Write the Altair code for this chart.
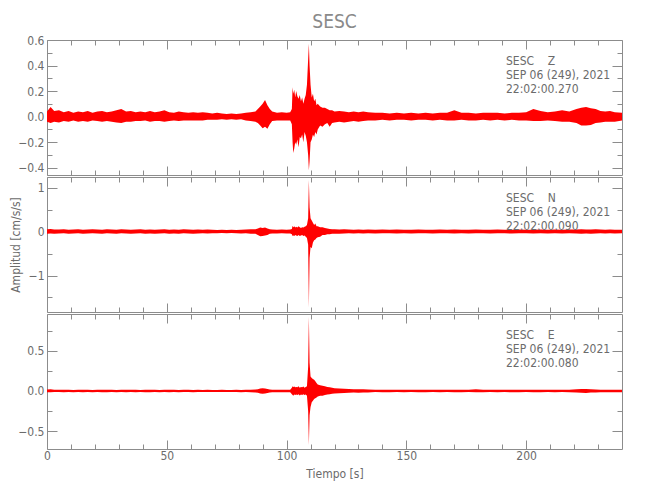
import altair as alt
import pandas as pd

# ---------------- data (envelope of each trace) ----------------
time_s = [0, 1.5, 3,
          5, 7, 9, 11, 13, 15, 17, 19, 21, 23, 25, 27, 29, 31, 33, 35, 37, 39, 41, 43,
          45, 47, 49, 51, 53, 55, 57, 59, 61, 63, 65, 67, 69, 71, 73, 75, 77, 79, 81, 83, 85,
          87, 88, 89, 90, 91, 92, 93, 94,
          96, 98, 100,
          101.5,
          102.2, 102.5, 102.8, 103.2, 103.6,
          104, 104.5, 105, 105.5, 106, 106.5, 107, 107.5, 108, 108.5, 109,
          109.3, 109.6,
          110, 110.5, 111, 111.5, 112, 112.5, 113,
          114, 115, 116, 117, 118, 119, 120,
          122, 124, 126, 128, 130, 132, 134,
          137, 140, 143, 146, 149, 152, 155, 158, 161, 164, 167, 170, 173, 176, 179, 182,
          185, 188, 191, 194, 197, 200, 203, 206, 209, 212, 215, 218,
          221, 223, 225, 227, 229, 231, 233, 235, 237,
          240]

z_upper = [0.04, 0.075, 0.045,
           0.05, 0.035, 0.045, 0.03, 0.04, 0.035, 0.045, 0.03, 0.04, 0.045,
           0.035, 0.04, 0.05, 0.06, 0.04, 0.045, 0.035, 0.04, 0.035, 0.045,
           0.035, 0.04, 0.05, 0.035, 0.03, 0.04, 0.035, 0.03, 0.035, 0.03,
           0.035, 0.03, 0.025, 0.03, 0.025, 0.02, 0.025, 0.02, 0.025, 0.03,
           0.035,
           0.04, 0.06, 0.08, 0.1, 0.13, 0.09, 0.06, 0.04,
           0.03, 0.035, 0.03,
           0.035,
           0.06, 0.23, 0.18, 0.21, 0.15,
           0.2, 0.16, 0.14, 0.17, 0.12, 0.15, 0.1, 0.14, 0.17, 0.25, 0.45,
           0.57, 0.4,
           0.25, 0.15, 0.18, 0.12, 0.14, 0.09, 0.1,
           0.08, 0.07, 0.07, 0.06, 0.05, 0.05, 0.04,
           0.045, 0.04, 0.035, 0.04, 0.035, 0.04, 0.035,
           0.03, 0.03, 0.025, 0.03, 0.025, 0.03, 0.025, 0.03, 0.025, 0.03, 0.03, 0.05, 0.03, 0.03,
           0.025, 0.03, 0.03, 0.03, 0.025, 0.03, 0.03, 0.035, 0.06, 0.045, 0.035, 0.04, 0.05, 0.04,
           0.06, 0.07, 0.075, 0.065, 0.06, 0.045, 0.04, 0.045, 0.035,
           0.03]
z_lower = [-0.04, -0.05, -0.04,
           -0.045, -0.035, -0.04, -0.03, -0.04, -0.035, -0.04, -0.03, -0.035, -0.04,
           -0.035, -0.04, -0.045, -0.05, -0.04, -0.04, -0.035, -0.035, -0.03, -0.04,
           -0.035, -0.035, -0.04, -0.035, -0.03, -0.035, -0.03, -0.03, -0.03, -0.03,
           -0.03, -0.025, -0.025, -0.025, -0.02, -0.025, -0.02, -0.025, -0.02, -0.03,
           -0.035,
           -0.04, -0.05, -0.07, -0.09, -0.08, -0.094, -0.06, -0.035,
           -0.03, -0.03, -0.03,
           -0.03,
           -0.06, -0.2, -0.285, -0.25, -0.2,
           -0.22, -0.18, -0.24, -0.16, -0.17, -0.14, -0.2, -0.12, -0.15, -0.2, -0.3,
           -0.42, -0.35,
           -0.2, -0.18, -0.14, -0.16, -0.12, -0.14, -0.1,
           -0.07, -0.08, -0.06, -0.05, -0.08, -0.05, -0.045,
           -0.04, -0.045, -0.04, -0.035, -0.04, -0.035, -0.03,
           -0.03, -0.025, -0.03, -0.025, -0.025, -0.03, -0.025, -0.025, -0.03, -0.025, -0.03, -0.03, -0.025, -0.03,
           -0.03, -0.025, -0.03, -0.025, -0.03, -0.025, -0.03, -0.03, -0.035, -0.035, -0.03, -0.035, -0.04, -0.04,
           -0.05, -0.07, -0.07, -0.065, -0.05, -0.045, -0.04, -0.04, -0.04,
           -0.03]

n_upper = [0.05, 0.06, 0.045,
           0.045, 0.05, 0.04, 0.045, 0.05, 0.04, 0.045, 0.05, 0.045, 0.04,
           0.05, 0.045, 0.04, 0.05, 0.045, 0.04, 0.045, 0.05, 0.04, 0.045,
           0.04, 0.045, 0.05, 0.04, 0.045, 0.04, 0.05, 0.045, 0.04, 0.045,
           0.04, 0.045, 0.04, 0.035, 0.04, 0.035, 0.04, 0.035, 0.04, 0.045,
           0.05,
           0.05, 0.07, 0.09, 0.08, 0.09, 0.07, 0.05, 0.045,
           0.04, 0.045, 0.04,
           0.045,
           0.06, 0.13, 0.1, 0.12, 0.09,
           0.11, 0.09, 0.12, 0.1, 0.08, 0.1, 0.09, 0.11, 0.12, 0.15, 0.3,
           1.17, 0.55,
           0.3, 0.25, 0.2, 0.15, 0.18, 0.12, 0.12,
           0.1, 0.1, 0.08, 0.07, 0.06, 0.05, 0.05,
           0.045, 0.05, 0.045, 0.04, 0.045, 0.04, 0.045,
           0.04, 0.045, 0.04, 0.045, 0.04, 0.04, 0.045, 0.04, 0.04, 0.045, 0.04, 0.045, 0.04, 0.04,
           0.045, 0.04, 0.04, 0.045, 0.04, 0.04, 0.045, 0.04, 0.04, 0.045, 0.04, 0.045, 0.04, 0.045,
           0.045, 0.05, 0.045, 0.045, 0.05, 0.045, 0.04, 0.045, 0.04,
           0.04]
n_lower = [-0.05, -0.045, -0.05,
           -0.045, -0.04, -0.05, -0.045, -0.04, -0.05, -0.045, -0.04, -0.045, -0.05,
           -0.04, -0.045, -0.05, -0.04, -0.045, -0.05, -0.045, -0.04, -0.05, -0.045,
           -0.05, -0.045, -0.04, -0.05, -0.045, -0.05, -0.04, -0.045, -0.05, -0.045,
           -0.04, -0.045, -0.04, -0.04, -0.035, -0.04, -0.035, -0.04, -0.045, -0.04,
           -0.05,
           -0.05, -0.08, -0.11, -0.1, -0.09, -0.08, -0.05, -0.045,
           -0.045, -0.04, -0.045,
           -0.045,
           -0.06, -0.1, -0.09, -0.1, -0.08,
           -0.09, -0.1, -0.08, -0.1, -0.09, -0.08, -0.1, -0.09, -0.12, -0.15, -0.3,
           -1.73, -0.6,
           -0.35, -0.38, -0.25, -0.2, -0.18, -0.15, -0.13,
           -0.12, -0.08, -0.08, -0.06, -0.06, -0.05, -0.05,
           -0.05, -0.045, -0.04, -0.045, -0.04, -0.045, -0.04,
           -0.045, -0.04, -0.04, -0.045, -0.04, -0.045, -0.04, -0.04, -0.045, -0.04, -0.04, -0.045, -0.04, -0.045,
           -0.04, -0.04, -0.045, -0.04, -0.04, -0.045, -0.04, -0.04, -0.045, -0.04, -0.045, -0.04, -0.045, -0.04,
           -0.045, -0.05, -0.045, -0.05, -0.045, -0.04, -0.045, -0.04, -0.045,
           -0.04]

e_upper = [0.018, 0.022, 0.016,
           0.016, 0.014, 0.016, 0.012, 0.016, 0.014, 0.016, 0.012, 0.016, 0.016,
           0.014, 0.016, 0.012, 0.016, 0.014, 0.016, 0.016, 0.012, 0.016, 0.014,
           0.016, 0.012, 0.016, 0.014, 0.016, 0.012, 0.016, 0.014, 0.012, 0.016,
           0.012, 0.014, 0.012, 0.012, 0.014, 0.012, 0.012, 0.014, 0.012, 0.016,
           0.016,
           0.018, 0.022, 0.03, 0.035, 0.03, 0.025, 0.018, 0.015,
           0.015, 0.016, 0.015,
           0.016,
           0.04, 0.06, 0.05, 0.055, 0.045,
           0.05, 0.045, 0.06, 0.04, 0.05, 0.045, 0.055, 0.04, 0.05, 0.06, 0.3,
           0.92, 0.35,
           0.18, 0.16, 0.15, 0.14, 0.12, 0.1, 0.08,
           0.07, 0.065, 0.06, 0.05, 0.045, 0.04, 0.035,
           0.03, 0.028, 0.025, 0.022, 0.02, 0.022, 0.018,
           0.016, 0.014, 0.016, 0.016, 0.014, 0.016, 0.016, 0.014, 0.016, 0.014, 0.016, 0.016, 0.014, 0.016,
           0.02, 0.016, 0.014, 0.016, 0.016, 0.014, 0.016, 0.016, 0.014, 0.016, 0.016, 0.014, 0.016, 0.016,
           0.02, 0.025, 0.025, 0.02, 0.018, 0.016, 0.015, 0.016, 0.016,
           0.016]
e_lower = [-0.016, -0.016, -0.014,
           -0.014, -0.016, -0.012, -0.016, -0.014, -0.016, -0.012, -0.016, -0.014, -0.016,
           -0.016, -0.012, -0.016, -0.014, -0.016, -0.012, -0.016, -0.014, -0.016, -0.016,
           -0.012, -0.016, -0.014, -0.016, -0.012, -0.016, -0.014, -0.012, -0.016, -0.012,
           -0.014, -0.012, -0.012, -0.014, -0.012, -0.012, -0.014, -0.012, -0.016, -0.014,
           -0.016,
           -0.018, -0.022, -0.03, -0.035, -0.03, -0.025, -0.018, -0.015,
           -0.016, -0.015, -0.016,
           -0.016,
           -0.04, -0.05, -0.06, -0.045, -0.05,
           -0.045, -0.05, -0.04, -0.055, -0.045, -0.05, -0.04, -0.05, -0.045, -0.06, -0.25,
           -0.67, -0.3,
           -0.2, -0.14, -0.12, -0.1, -0.09, -0.08, -0.07,
           -0.06, -0.06, -0.05, -0.045, -0.04, -0.035, -0.03,
           -0.028, -0.025, -0.022, -0.02, -0.022, -0.018, -0.018,
           -0.014, -0.016, -0.016, -0.014, -0.016, -0.014, -0.016, -0.016, -0.014, -0.016, -0.014, -0.016, -0.016, -0.014,
           -0.016, -0.016, -0.014, -0.016, -0.014, -0.016, -0.016, -0.014, -0.016, -0.016, -0.014, -0.016, -0.014, -0.016,
           -0.02, -0.022, -0.025, -0.02, -0.018, -0.016, -0.016, -0.015, -0.016,
           -0.016]

for arr in (z_upper, z_lower, n_upper, n_lower, e_upper, e_lower):
    assert len(arr) == len(time_s), (len(arr), len(time_s))

x_major_ticks = [0, 50, 100, 150, 200]
x_minor_ticks = [10, 20, 30, 40, 60, 70, 80, 90, 110, 120, 130, 140, 160, 170, 180, 190, 210, 220, 230]

z_domain = [-0.457, 0.6]
z_major = [-0.4, -0.2, 0.0, 0.2, 0.4, 0.6]
z_minor = [-0.3, -0.1, 0.1, 0.3, 0.5]

n_domain = [-1.83, 1.24]
n_major = [-1, 0, 1]
n_minor = [-1.5, -0.5, 0.5]

e_domain = [-0.72, 0.955]
e_major = [-0.5, 0.0, 0.5]
e_minor = [-0.25, 0.25, 0.75]

z_info = ["SESC\u00a0\u00a0\u00a0\u00a0Z", "SEP 06 (249), 2021", "22:02:00.270"]
n_info = ["SESC\u00a0\u00a0\u00a0\u00a0N", "SEP 06 (249), 2021", "22:02:00.090"]
e_info = ["SESC\u00a0\u00a0\u00a0\u00a0E", "SEP 06 (249), 2021", "22:02:00.080"]

chart_title = "SESC"
x_title = "Tiempo [s]"
y_title = "Amplitud [cm/s/s]"

# ---------------- style ----------------
FONT = "Liberation Sans Narrow, DejaVu Sans Condensed, Liberation Sans, sans-serif"
TXT = "#6b6b6b"
TICK = "#8c8c8c"
RED = "#ff0000"
W, H = 575, 135
FS = 12


def axis(orient, values, size, labels=False, fmt=None, title=None, **extra):
    kw = dict(orient=orient, values=values, tickSize=size, offset=-size, domain=False,
              grid=False, labels=labels, ticks=True, tickColor=TICK, tickWidth=1,
              labelFlush=False, labelOverlap=False, labelFont=FONT, labelFontSize=FS,
              labelColor=TXT, labelPadding=3, titleFont=FONT, titleFontSize=FS,
              titleColor=TXT, titleFontWeight="normal", title=title)
    if fmt:
        kw["format"] = fmt
    kw.update(extra)
    return alt.Axis(**kw)


def panel(up, lo, dom, y_major, y_minor, yfmt, info, x_labels=False,
          xt=None, yt=None, top_title=None):
    df = pd.DataFrame({"t": time_s, "up": up, "lo": lo})
    xs = alt.Scale(domain=[0, 240], nice=False, zero=False)
    ys = alt.Scale(domain=dom, nice=False, zero=False)
    base = alt.Chart(df)

    xkw = dict(titlePadding=7, labelPadding=1) if xt else {}
    ykw = dict(titlePadding=6) if yt else {}
    trace = base.mark_area(color=RED, opacity=1, interpolate="linear").encode(
        x=alt.X("t:Q", scale=xs,
                axis=axis("bottom", x_major_ticks, 9, labels=x_labels, fmt="d", title=xt, **xkw)),
        y=alt.Y("up:Q", scale=ys,
                axis=axis("left", y_major, 10, labels=True, fmt=yfmt, title=yt, **ykw)),
        y2="lo:Q",
    )
    ghost = base.mark_point(opacity=0)
    minor_bl = ghost.encode(
        x=alt.X("t:Q", scale=xs, axis=axis("bottom", x_minor_ticks, 5)),
        y=alt.Y("up:Q", scale=ys, axis=axis("left", y_minor, 5)),
    )
    major_tr = ghost.encode(
        x=alt.X("t:Q", scale=xs, axis=axis("top", x_major_ticks, 9)),
        y=alt.Y("up:Q", scale=ys, axis=axis("right", y_major, 10)),
    )
    minor_tr = ghost.encode(
        x=alt.X("t:Q", scale=xs, axis=axis("top", x_minor_ticks, 5)),
        y=alt.Y("up:Q", scale=ys, axis=axis("right", y_minor, 5)),
    )
    note = alt.Chart(pd.DataFrame({"k": [0]})).mark_text(
        text=info, align="left", baseline="top", font=FONT, fontSize=FS,
        color=TXT, lineHeight=14,
    ).encode(x=alt.value(459), y=alt.value(16))
    layers = [trace, minor_bl, major_tr, minor_tr, note]
    if top_title:
        layers.append(
            alt.Chart(pd.DataFrame({"k": [0]})).mark_text(
                text=top_title, align="center", baseline="middle", font=FONT,
                fontSize=19, color="#8a8a8a",
            ).encode(x=alt.value(W / 2), y=alt.value(-18))
        )
    return alt.layer(*layers).resolve_axis(x="independent", y="independent").properties(
        width=W, height=H)


p_z = panel(z_upper, z_lower, z_domain, z_major, z_minor, ".1f", z_info, top_title=chart_title)
p_n = panel(n_upper, n_lower, n_domain, n_major, n_minor, "d", n_info, yt=y_title)
p_e = panel(e_upper, e_lower, e_domain, e_major, e_minor, ".1f", e_info,
            x_labels=True, xt=x_title)

chart = alt.vconcat(p_z, p_n, p_e, spacing=0).properties(
    padding={"left": 0, "top": 4, "right": 5, "bottom": 5}
).configure_view(stroke=TICK, strokeWidth=1)

chart.save("out.html", embed_options={"renderer": "svg", "actions": False})
